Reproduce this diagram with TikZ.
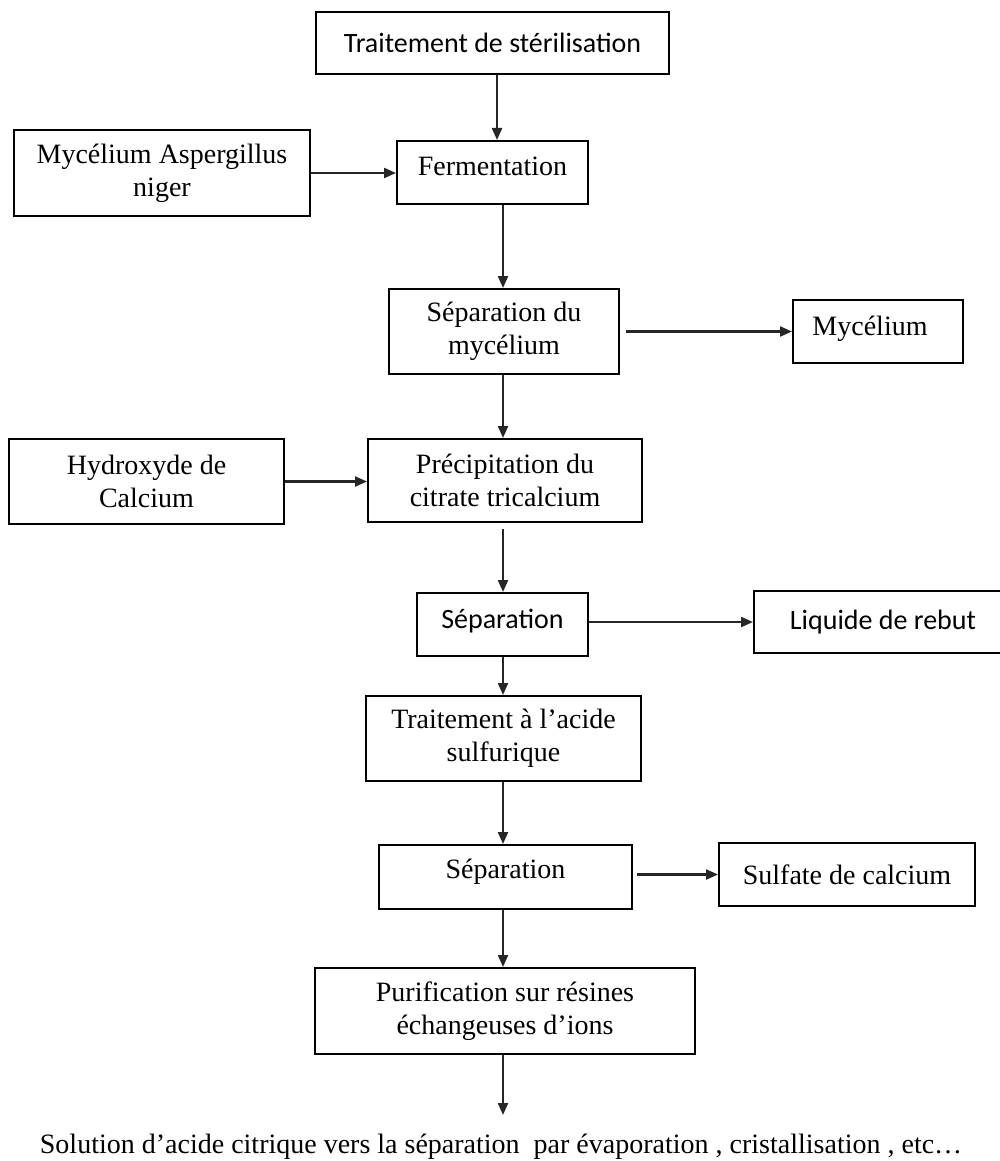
\documentclass[tikz,border=0pt]{standalone}
\usepackage{fontspec}
\setmainfont{Liberation Serif}
\newfontfamily\calibrifont{Carlito}
\usetikzlibrary{arrows.meta}
\begin{document}
\begin{tikzpicture}[x=1pt,y=-1pt,
  box/.style={draw=black, line width=2pt, inner sep=0pt, align=center,
    font=\fontsize{28}{33}\selectfont},
  sbox/.style={box, font=\calibrifont\fontsize{28}{33}\selectfont},
  flow/.style={draw=black!85, line width=2.2pt, -{Triangle[length=12pt,width=10pt]}},
  hi/.style={text height=19pt, text depth=12pt},
  hii/.style={text height=19pt, text depth=17pt}]
\useasboundingbox (0,0) rectangle (999,1161);
\coordinate (ax) at (503,0);
\coordinate (ax2) at (497,0);

\node[sbox, minimum width=353pt, minimum height=62pt] (ster) at (492.5,43) {Traitement de stérilisation};
\node[box, minimum width=296pt, minimum height=86pt] (asp) at (162,173) {Mycélium Aspergillus\\niger};
\node[box, hi, minimum width=191pt, minimum height=63pt] (ferm) at (492.5,172.5) {Fermentation};
\node[box, minimum width=230pt, minimum height=85pt] (sepmyc) at (504,331.5) {Séparation du\\mycélium};
\node[box, hi, minimum width=170pt, minimum height=63pt] (myc) at (878,331.5) {Mycélium\hspace{16pt}};
\node[box, minimum width=275pt, minimum height=85pt] (hyd) at (146.5,481.5) {Hydroxyde de\\Calcium};
\node[box, minimum width=274pt, minimum height=83pt] (precip) at (505,480.5) {Précipitation du\\citrate tricalcium};
\node[sbox, hi, minimum width=171pt, minimum height=63pt] (sep1) at (502.5,624.5) {Séparation};
\node[sbox, minimum width=258pt, minimum height=62pt] (liq) at (883,622) {Liquide de rebut};
\node[box, minimum width=275pt, minimum height=85pt] (acide) at (503.5,738.5) {Traitement à l’acide\\sulfurique};
\node[box, hii, minimum width=253pt, minimum height=64pt] (sep2) at (505.5,877) {Séparation};
\node[box, minimum width=256pt, minimum height=63pt] (sulf) at (847,874.5) {Sulfate de calcium};
\node[box, minimum width=380pt, minimum height=86pt] (purif) at (505,1011) {Purification sur résines\\échangeuses d’ions};
\node[anchor=base, inner sep=0pt, font=\fontsize{28}{33}\selectfont] (fin) at (501,1153)
  {Solution d’acide citrique vers la séparation\ \ par évaporation , cristallisation , etc…};
\coordinate (finin) at (503,1115);

\draw[flow] (ster.south -| ax2) -- (ferm.north -| ax2);
\draw[flow] (asp.east) -- (asp.east -| ferm.west);
\draw[flow] (ferm.south -| ax) -- (sepmyc.north -| ax);
\draw[flow, shorten <=6pt] (sepmyc.east) -- (sepmyc.east -| myc.west);
\draw[flow] (sepmyc.south -| ax) -- (precip.north -| ax);
\draw[flow] (hyd.east) -- (hyd.east -| precip.west);
\draw[flow, shorten <=6pt] (precip.south -| ax) -- (sep1.north -| ax);
\draw[flow] (liq.west -| sep1.east) -- (liq.west);
\draw[flow] (sep1.south -| ax) -- (acide.north -| ax);
\draw[flow] (acide.south -| ax) -- (sep2.north -| ax);
\draw[flow, shorten <=4pt] (sulf.west -| sep2.east) -- (sulf.west);
\draw[flow] (sep2.south -| ax) -- (purif.north -| ax);
\draw[flow] (purif.south -| ax) -- (finin);
\end{tikzpicture}
\end{document}
